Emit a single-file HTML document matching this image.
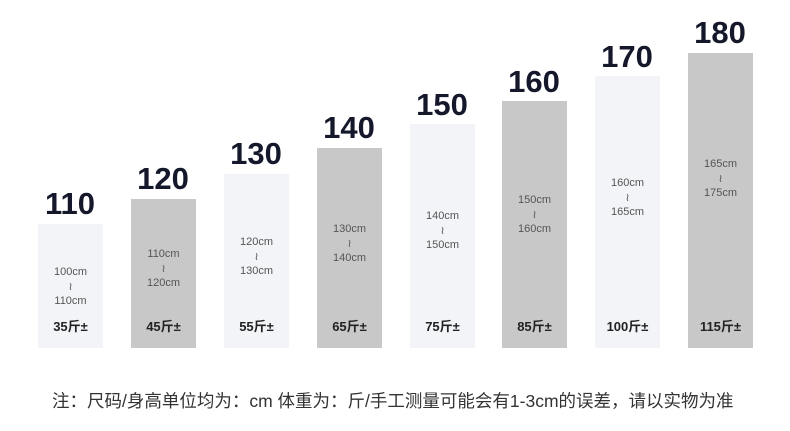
<!DOCTYPE html>
<html><head><meta charset="utf-8"><style>
body{margin:0;width:790px;height:431px;background:#fff;position:relative;overflow:hidden;font-family:"Liberation Sans","Noto Sans CJK SC",sans-serif}
.b{position:absolute;width:65px;bottom:83px}
.l{background:#f3f4f8}.g{background:#c8c8c8}
.n{position:absolute;width:100px;text-align:center;font-weight:bold;font-size:31px;color:#15182b;line-height:30px}
.r{position:absolute;left:0;right:0;text-align:center;font-size:11px;color:#555;line-height:14.5px}
.w{position:absolute;left:0;right:0;bottom:13px;text-align:center;font-size:13px;font-weight:bold;color:#222}
.f{position:absolute;left:52px;top:388px;font-size:17.5px;color:#333;white-space:nowrap}
</style></head><body>
<div class="b l" style="left:38px;top:224px"><div class="r" style="top:41px">100cm<br>≀<br>110cm</div><div class="w">35斤±</div></div>
<div class="n" style="left:20px;top:189px">110</div>
<div class="b g" style="left:131px;top:199px"><div class="r" style="top:48px">110cm<br>≀<br>120cm</div><div class="w">45斤±</div></div>
<div class="n" style="left:113px;top:164px">120</div>
<div class="b l" style="left:224px;top:174px"><div class="r" style="top:61px">120cm<br>≀<br>130cm</div><div class="w">55斤±</div></div>
<div class="n" style="left:206px;top:139px">130</div>
<div class="b g" style="left:317px;top:148px"><div class="r" style="top:74px">130cm<br>≀<br>140cm</div><div class="w">65斤±</div></div>
<div class="n" style="left:299px;top:113px">140</div>
<div class="b l" style="left:410px;top:124px"><div class="r" style="top:85px">140cm<br>≀<br>150cm</div><div class="w">75斤±</div></div>
<div class="n" style="left:392px;top:90px">150</div>
<div class="b g" style="left:502px;top:101px"><div class="r" style="top:92px">150cm<br>≀<br>160cm</div><div class="w">85斤±</div></div>
<div class="n" style="left:484px;top:67px">160</div>
<div class="b l" style="left:595px;top:76px"><div class="r" style="top:100px">160cm<br>≀<br>165cm</div><div class="w">100斤±</div></div>
<div class="n" style="left:577px;top:42px">170</div>
<div class="b g" style="left:688px;top:53px"><div class="r" style="top:104px">165cm<br>≀<br>175cm</div><div class="w">115斤±</div></div>
<div class="n" style="left:670px;top:18px">180</div>
<div class="f">注：尺码/身高单位均为：cm 体重为：斤/手工测量可能会有1-3cm的误差，请以实物为准</div>
</body></html>
